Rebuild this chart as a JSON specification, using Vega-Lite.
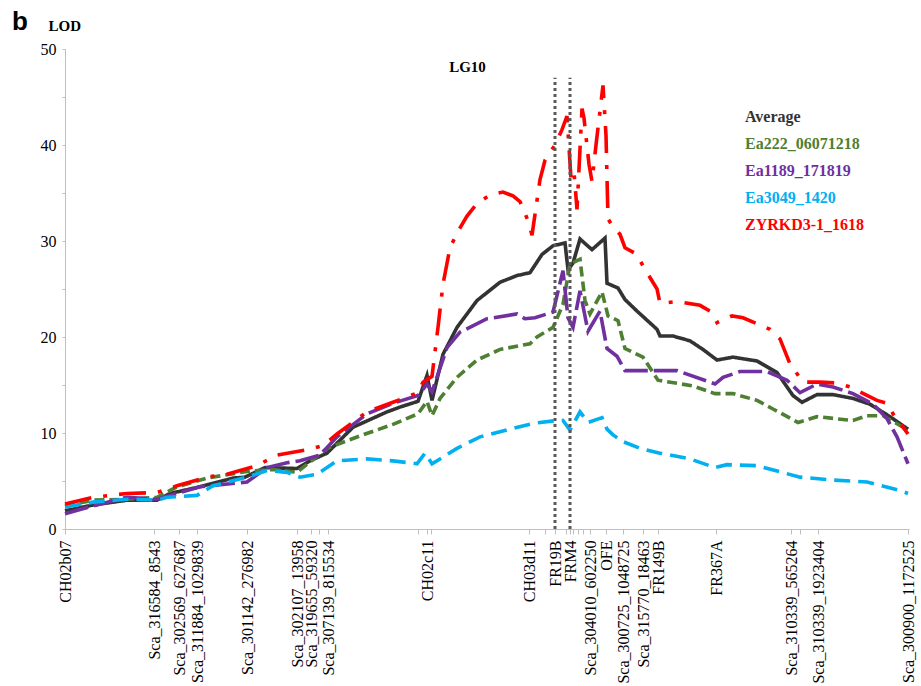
{
  "$schema": "https://vega.github.io/schema/vega-lite/v6.json",
  "autosize": "none",
  "width": 844,
  "height": 480,
  "padding": {"left": 65, "top": 49, "right": 12, "bottom": 157},
  "background": "white",
  "config": {"view": {"stroke": null}, "axis": {"labelOverlap": false}},
  "datasets": {
    "flank": [{"marker": "FR19B", "cM": 49.0}, {"marker": "FRM4", "cM": 50.5}],
    "lod": [
      {"series":"Average","cM":0,"LOD":1.9},{"series":"Average","cM":2.8,"LOD":2.5},{"series":"Average","cM":6.2,"LOD":3.0},{"series":"Average","cM":9.2,"LOD":3.0},{"series":"Average","cM":10.5,"LOD":3.7},{"series":"Average","cM":13.5,"LOD":4.4},{"series":"Average","cM":16.8,"LOD":5.3},{"series":"Average","cM":18.0,"LOD":5.4},{"series":"Average","cM":20.0,"LOD":6.4},{"series":"Average","cM":23.2,"LOD":6.3},{"series":"Average","cM":24.5,"LOD":7.1},{"series":"Average","cM":26.2,"LOD":7.9},{"series":"Average","cM":28.8,"LOD":10.6},{"series":"Average","cM":32.2,"LOD":12.2},{"series":"Average","cM":33.5,"LOD":12.7},{"series":"Average","cM":35.3,"LOD":13.3},{"series":"Average","cM":36.2,"LOD":16.0},{"series":"Average","cM":36.7,"LOD":13.4},{"series":"Average","cM":37.8,"LOD":18.2},{"series":"Average","cM":39.2,"LOD":21.0},{"series":"Average","cM":41.2,"LOD":23.8},{"series":"Average","cM":43.5,"LOD":25.7},{"series":"Average","cM":45.2,"LOD":26.4},{"series":"Average","cM":46.5,"LOD":26.7},{"series":"Average","cM":47.7,"LOD":28.6},{"series":"Average","cM":48.8,"LOD":29.5},{"series":"Average","cM":50.0,"LOD":29.8},{"series":"Average","cM":50.3,"LOD":27.0},{"series":"Average","cM":50.8,"LOD":27.7},{"series":"Average","cM":51.5,"LOD":30.2},{"series":"Average","cM":52.7,"LOD":29.1},{"series":"Average","cM":54.0,"LOD":30.3},{"series":"Average","cM":54.2,"LOD":25.6},{"series":"Average","cM":55.3,"LOD":25.1},{"series":"Average","cM":56.0,"LOD":23.9},{"series":"Average","cM":57.2,"LOD":22.7},{"series":"Average","cM":59.2,"LOD":20.8},{"series":"Average","cM":59.5,"LOD":20.1},{"series":"Average","cM":60.8,"LOD":20.1},{"series":"Average","cM":62.5,"LOD":19.6},{"series":"Average","cM":63.8,"LOD":18.7},{"series":"Average","cM":65.2,"LOD":17.6},{"series":"Average","cM":66.8,"LOD":17.9},{"series":"Average","cM":69.2,"LOD":17.5},{"series":"Average","cM":71.2,"LOD":16.3},{"series":"Average","cM":72.8,"LOD":13.9},{"series":"Average","cM":73.7,"LOD":13.2},{"series":"Average","cM":75.2,"LOD":14.0},{"series":"Average","cM":76.8,"LOD":14.0},{"series":"Average","cM":78.8,"LOD":13.6},{"series":"Average","cM":80.5,"LOD":13.0},{"series":"Average","cM":82.5,"LOD":11.7},{"series":"Average","cM":84.3,"LOD":10.4},
      {"series":"Ea222_06071218","cM":0,"LOD":2.4},{"series":"Ea222_06071218","cM":2.8,"LOD":3.0},{"series":"Ea222_06071218","cM":6.2,"LOD":3.1},{"series":"Ea222_06071218","cM":9.2,"LOD":3.3},{"series":"Ea222_06071218","cM":11.2,"LOD":4.4},{"series":"Ea222_06071218","cM":14.2,"LOD":5.3},{"series":"Ea222_06071218","cM":18.2,"LOD":6.0},{"series":"Ea222_06071218","cM":20.8,"LOD":6.2},{"series":"Ea222_06071218","cM":23.2,"LOD":5.9},{"series":"Ea222_06071218","cM":26.2,"LOD":8.4},{"series":"Ea222_06071218","cM":29.5,"LOD":9.7},{"series":"Ea222_06071218","cM":32.8,"LOD":10.9},{"series":"Ea222_06071218","cM":35.3,"LOD":12.0},{"series":"Ea222_06071218","cM":36.2,"LOD":13.3},{"series":"Ea222_06071218","cM":36.7,"LOD":11.8},{"series":"Ea222_06071218","cM":37.5,"LOD":13.6},{"series":"Ea222_06071218","cM":39.2,"LOD":15.8},{"series":"Ea222_06071218","cM":41.2,"LOD":17.6},{"series":"Ea222_06071218","cM":43.5,"LOD":18.7},{"series":"Ea222_06071218","cM":46.5,"LOD":19.3},{"series":"Ea222_06071218","cM":47.2,"LOD":20.0},{"series":"Ea222_06071218","cM":48.8,"LOD":21.0},{"series":"Ea222_06071218","cM":49.8,"LOD":23.4},{"series":"Ea222_06071218","cM":50.5,"LOD":27.6},{"series":"Ea222_06071218","cM":51.5,"LOD":28.1},{"series":"Ea222_06071218","cM":52.0,"LOD":23.8},{"series":"Ea222_06071218","cM":52.5,"LOD":22.4},{"series":"Ea222_06071218","cM":53.7,"LOD":24.7},{"series":"Ea222_06071218","cM":54.3,"LOD":22.2},{"series":"Ea222_06071218","cM":55.3,"LOD":21.7},{"series":"Ea222_06071218","cM":56.0,"LOD":18.8},{"series":"Ea222_06071218","cM":57.8,"LOD":17.9},{"series":"Ea222_06071218","cM":59.3,"LOD":15.5},{"series":"Ea222_06071218","cM":62.8,"LOD":14.9},{"series":"Ea222_06071218","cM":65.0,"LOD":14.1},{"series":"Ea222_06071218","cM":66.8,"LOD":14.1},{"series":"Ea222_06071218","cM":69.2,"LOD":13.4},{"series":"Ea222_06071218","cM":70.8,"LOD":12.5},{"series":"Ea222_06071218","cM":73.3,"LOD":11.1},{"series":"Ea222_06071218","cM":75.2,"LOD":11.7},{"series":"Ea222_06071218","cM":78.8,"LOD":11.3},{"series":"Ea222_06071218","cM":80.2,"LOD":11.8},{"series":"Ea222_06071218","cM":81.8,"LOD":11.8},{"series":"Ea222_06071218","cM":84.3,"LOD":10.3},
      {"series":"Ea1189_171819","cM":0,"LOD":1.6},{"series":"Ea1189_171819","cM":2.8,"LOD":2.4},{"series":"Ea1189_171819","cM":6.2,"LOD":3.3},{"series":"Ea1189_171819","cM":9.2,"LOD":3.1},{"series":"Ea1189_171819","cM":13.5,"LOD":4.4},{"series":"Ea1189_171819","cM":18.2,"LOD":4.9},{"series":"Ea1189_171819","cM":20.2,"LOD":6.4},{"series":"Ea1189_171819","cM":22.2,"LOD":6.9},{"series":"Ea1189_171819","cM":23.5,"LOD":7.1},{"series":"Ea1189_171819","cM":25.5,"LOD":7.7},{"series":"Ea1189_171819","cM":27.2,"LOD":9.6},{"series":"Ea1189_171819","cM":30.2,"LOD":12.0},{"series":"Ea1189_171819","cM":32.8,"LOD":13.1},{"series":"Ea1189_171819","cM":35.3,"LOD":13.9},{"series":"Ea1189_171819","cM":36.2,"LOD":15.1},{"series":"Ea1189_171819","cM":36.7,"LOD":14.3},{"series":"Ea1189_171819","cM":38.2,"LOD":18.9},{"series":"Ea1189_171819","cM":39.5,"LOD":20.5},{"series":"Ea1189_171819","cM":42.2,"LOD":21.9},{"series":"Ea1189_171819","cM":45.2,"LOD":22.4},{"series":"Ea1189_171819","cM":46.0,"LOD":21.9},{"series":"Ea1189_171819","cM":47.0,"LOD":22.0},{"series":"Ea1189_171819","cM":48.8,"LOD":22.6},{"series":"Ea1189_171819","cM":49.8,"LOD":26.9},{"series":"Ea1189_171819","cM":50.3,"LOD":22.0},{"series":"Ea1189_171819","cM":50.8,"LOD":21.0},{"series":"Ea1189_171819","cM":51.5,"LOD":24.8},{"series":"Ea1189_171819","cM":52.3,"LOD":20.6},{"series":"Ea1189_171819","cM":53.5,"LOD":22.7},{"series":"Ea1189_171819","cM":54.2,"LOD":18.8},{"series":"Ea1189_171819","cM":55.2,"LOD":18.0},{"series":"Ea1189_171819","cM":56.0,"LOD":16.5},{"series":"Ea1189_171819","cM":61.2,"LOD":16.5},{"series":"Ea1189_171819","cM":64.5,"LOD":15.3},{"series":"Ea1189_171819","cM":65.0,"LOD":15.1},{"series":"Ea1189_171819","cM":65.8,"LOD":15.8},{"series":"Ea1189_171819","cM":67.5,"LOD":16.4},{"series":"Ea1189_171819","cM":70.2,"LOD":16.4},{"series":"Ea1189_171819","cM":72.2,"LOD":15.5},{"series":"Ea1189_171819","cM":73.5,"LOD":14.2},{"series":"Ea1189_171819","cM":75.2,"LOD":15.1},{"series":"Ea1189_171819","cM":76.8,"LOD":14.8},{"series":"Ea1189_171819","cM":78.8,"LOD":14.1},{"series":"Ea1189_171819","cM":80.8,"LOD":13.0},{"series":"Ea1189_171819","cM":82.2,"LOD":11.5},{"series":"Ea1189_171819","cM":83.2,"LOD":9.6},{"series":"Ea1189_171819","cM":84.3,"LOD":6.8},
      {"series":"Ea3049_1420","cM":0,"LOD":2.3},{"series":"Ea3049_1420","cM":2.8,"LOD":2.8},{"series":"Ea3049_1420","cM":6.2,"LOD":3.1},{"series":"Ea3049_1420","cM":9.2,"LOD":3.0},{"series":"Ea3049_1420","cM":10.2,"LOD":3.3},{"series":"Ea3049_1420","cM":13.2,"LOD":3.5},{"series":"Ea3049_1420","cM":14.8,"LOD":4.5},{"series":"Ea3049_1420","cM":18.2,"LOD":5.4},{"series":"Ea3049_1420","cM":20.2,"LOD":6.1},{"series":"Ea3049_1420","cM":22.2,"LOD":5.9},{"series":"Ea3049_1420","cM":23.5,"LOD":5.4},{"series":"Ea3049_1420","cM":25.2,"LOD":5.7},{"series":"Ea3049_1420","cM":27.2,"LOD":7.1},{"series":"Ea3049_1420","cM":30.2,"LOD":7.3},{"series":"Ea3049_1420","cM":32.8,"LOD":7.1},{"series":"Ea3049_1420","cM":35.2,"LOD":6.8},{"series":"Ea3049_1420","cM":36.0,"LOD":7.9},{"series":"Ea3049_1420","cM":36.7,"LOD":6.8},{"series":"Ea3049_1420","cM":37.5,"LOD":7.3},{"series":"Ea3049_1420","cM":39.2,"LOD":8.4},{"series":"Ea3049_1420","cM":41.5,"LOD":9.6},{"series":"Ea3049_1420","cM":44.5,"LOD":10.4},{"series":"Ea3049_1420","cM":46.8,"LOD":11.0},{"series":"Ea3049_1420","cM":49.2,"LOD":11.3},{"series":"Ea3049_1420","cM":49.8,"LOD":11.3},{"series":"Ea3049_1420","cM":50.5,"LOD":10.3},{"series":"Ea3049_1420","cM":51.5,"LOD":12.2},{"series":"Ea3049_1420","cM":52.3,"LOD":11.1},{"series":"Ea3049_1420","cM":53.7,"LOD":11.6},{"series":"Ea3049_1420","cM":54.2,"LOD":10.4},{"series":"Ea3049_1420","cM":54.8,"LOD":9.8},{"series":"Ea3049_1420","cM":55.8,"LOD":9.1},{"series":"Ea3049_1420","cM":57.5,"LOD":8.4},{"series":"Ea3049_1420","cM":59.5,"LOD":7.9},{"series":"Ea3049_1420","cM":62.5,"LOD":7.3},{"series":"Ea3049_1420","cM":65.0,"LOD":6.4},{"series":"Ea3049_1420","cM":66.2,"LOD":6.7},{"series":"Ea3049_1420","cM":69.2,"LOD":6.6},{"series":"Ea3049_1420","cM":73.5,"LOD":5.4},{"series":"Ea3049_1420","cM":76.8,"LOD":5.1},{"series":"Ea3049_1420","cM":80.2,"LOD":4.9},{"series":"Ea3049_1420","cM":83.5,"LOD":4.0},{"series":"Ea3049_1420","cM":84.3,"LOD":3.7},
      {"series":"ZYRKD3-1_1618","cM":0,"LOD":2.6},{"series":"ZYRKD3-1_1618","cM":2.8,"LOD":3.3},{"series":"ZYRKD3-1_1618","cM":6.2,"LOD":3.7},{"series":"ZYRKD3-1_1618","cM":9.2,"LOD":3.8},{"series":"ZYRKD3-1_1618","cM":11.2,"LOD":4.5},{"series":"ZYRKD3-1_1618","cM":14.2,"LOD":5.4},{"series":"ZYRKD3-1_1618","cM":16.2,"LOD":5.7},{"series":"ZYRKD3-1_1618","cM":19.2,"LOD":6.6},{"series":"ZYRKD3-1_1618","cM":21.2,"LOD":7.7},{"series":"ZYRKD3-1_1618","cM":24.5,"LOD":8.3},{"series":"ZYRKD3-1_1618","cM":25.8,"LOD":8.7},{"series":"ZYRKD3-1_1618","cM":27.2,"LOD":9.9},{"series":"ZYRKD3-1_1618","cM":30.2,"LOD":12.2},{"series":"ZYRKD3-1_1618","cM":32.8,"LOD":13.2},{"series":"ZYRKD3-1_1618","cM":35.3,"LOD":14.2},{"series":"ZYRKD3-1_1618","cM":35.8,"LOD":15.3},{"series":"ZYRKD3-1_1618","cM":36.7,"LOD":15.9},{"series":"ZYRKD3-1_1618","cM":37.3,"LOD":21.0},{"series":"ZYRKD3-1_1618","cM":37.8,"LOD":25.5},{"series":"ZYRKD3-1_1618","cM":38.5,"LOD":29.3},{"series":"ZYRKD3-1_1618","cM":39.3,"LOD":31.0},{"series":"ZYRKD3-1_1618","cM":40.2,"LOD":32.6},{"series":"ZYRKD3-1_1618","cM":41.2,"LOD":33.9},{"series":"ZYRKD3-1_1618","cM":42.5,"LOD":34.8},{"series":"ZYRKD3-1_1618","cM":43.8,"LOD":35.1},{"series":"ZYRKD3-1_1618","cM":44.8,"LOD":34.7},{"series":"ZYRKD3-1_1618","cM":45.5,"LOD":34.1},{"series":"ZYRKD3-1_1618","cM":45.8,"LOD":33.4},{"series":"ZYRKD3-1_1618","cM":46.3,"LOD":32.1},{"series":"ZYRKD3-1_1618","cM":46.7,"LOD":30.6},{"series":"ZYRKD3-1_1618","cM":47.5,"LOD":36.4},{"series":"ZYRKD3-1_1618","cM":48.0,"LOD":38.4},{"series":"ZYRKD3-1_1618","cM":49.0,"LOD":40.0},{"series":"ZYRKD3-1_1618","cM":49.7,"LOD":41.6},{"series":"ZYRKD3-1_1618","cM":50.2,"LOD":43.0},{"series":"ZYRKD3-1_1618","cM":50.6,"LOD":36.5},{"series":"ZYRKD3-1_1618","cM":50.9,"LOD":37.2},{"series":"ZYRKD3-1_1618","cM":51.2,"LOD":33.3},{"series":"ZYRKD3-1_1618","cM":51.7,"LOD":43.8},{"series":"ZYRKD3-1_1618","cM":51.9,"LOD":42.8},{"series":"ZYRKD3-1_1618","cM":52.4,"LOD":38.0},{"series":"ZYRKD3-1_1618","cM":52.7,"LOD":36.2},{"series":"ZYRKD3-1_1618","cM":53.1,"LOD":40.0},{"series":"ZYRKD3-1_1618","cM":53.8,"LOD":46.2},{"series":"ZYRKD3-1_1618","cM":54.1,"LOD":41.0},{"series":"ZYRKD3-1_1618","cM":54.3,"LOD":32.3},{"series":"ZYRKD3-1_1618","cM":54.8,"LOD":31.5},{"series":"ZYRKD3-1_1618","cM":55.5,"LOD":30.7},{"series":"ZYRKD3-1_1618","cM":56.0,"LOD":29.3},{"series":"ZYRKD3-1_1618","cM":57.2,"LOD":28.6},{"series":"ZYRKD3-1_1618","cM":57.8,"LOD":27.4},{"series":"ZYRKD3-1_1618","cM":59.2,"LOD":25.0},{"series":"ZYRKD3-1_1618","cM":59.5,"LOD":23.5},{"series":"ZYRKD3-1_1618","cM":61.2,"LOD":23.7},{"series":"ZYRKD3-1_1618","cM":63.5,"LOD":23.3},{"series":"ZYRKD3-1_1618","cM":64.5,"LOD":22.7},{"series":"ZYRKD3-1_1618","cM":65.2,"LOD":21.5},{"series":"ZYRKD3-1_1618","cM":66.7,"LOD":22.2},{"series":"ZYRKD3-1_1618","cM":67.8,"LOD":22.0},{"series":"ZYRKD3-1_1618","cM":70.5,"LOD":20.8},{"series":"ZYRKD3-1_1618","cM":71.5,"LOD":19.8},{"series":"ZYRKD3-1_1618","cM":72.5,"LOD":17.2},{"series":"ZYRKD3-1_1618","cM":73.8,"LOD":15.3},{"series":"ZYRKD3-1_1618","cM":75.5,"LOD":15.3},{"series":"ZYRKD3-1_1618","cM":77.2,"LOD":15.2},{"series":"ZYRKD3-1_1618","cM":78.5,"LOD":14.8},{"series":"ZYRKD3-1_1618","cM":81.2,"LOD":13.4},{"series":"ZYRKD3-1_1618","cM":82.2,"LOD":13.1},{"series":"ZYRKD3-1_1618","cM":82.8,"LOD":12.0},{"series":"ZYRKD3-1_1618","cM":84.3,"LOD":9.9}
    ]
  },
  "layer": [
    {
      "data": {"name": "lod"},
      "mark": {"type": "line", "strokeWidth": 3.6, "strokeMiterLimit": 4},
      "encoding": {
        "x": {
          "field": "cM", "type": "quantitative",
          "scale": {"domain": [0, 84.4], "nice": false, "zero": false},
          "axis": {
            "title": null,
            "values": [0, 8.9, 11.4, 13.2, 18.2, 23.2, 24.6, 25.4, 26.3, 35.3, 36.2, 36.6, 46.4, 48.0, 49.0, 50.1, 50.5, 50.8, 51.3, 51.8, 52.5, 54.1, 55.8, 57.8, 59.3, 65.1, 72.6, 73.5, 75.3, 84.3],
            "tickCount": 200,
            "labelExpr": "['CH02b07','Sca_316584_8543','Sca_302569_627687','Sca_311884_1029839','Sca_301142_276982','Sca_302107_13958','Sca_319655_59320','','Sca_307139_815534','','CH02c11','','CH03d11','','FR19B','','FRM4','','','','Sca_304010_602250','OFE','Sca_300725_1048725','Sca_315770_18463','FR149B','FR367A','Sca_310339_565264','','Sca_310339_1923404','Sca_300900_1172525'][indexof([0, 8.9, 11.4, 13.2, 18.2, 23.2, 24.6, 25.4, 26.3, 35.3, 36.2, 36.6, 46.4, 48.0, 49.0, 50.1, 50.5, 50.8, 51.3, 51.8, 52.5, 54.1, 55.8, 57.8, 59.3, 65.1, 72.6, 73.5, 75.3, 84.3], datum.value)]",
            "labelAngle": -90,
            "labelOverlap": false,
            "labelFlush": false,
            "labelBound": false,
            "labelFont": "Liberation Serif",
            "labelFontSize": 16,
            "labelColor": "black",
            "labelPadding": 6,
            "tickSize": 5,
            "tickColor": "#bfbfbf",
            "domainColor": "#bfbfbf",
            "grid": false
          }
        },
        "y": {
          "field": "LOD", "type": "quantitative",
          "scale": {"domain": [0, 50], "nice": false},
          "axis": {
            "title": "LOD",
            "titleAngle": 0,
            "titleX": -17,
            "titleY": -19,
            "titleAlign": "left",
            "titleBaseline": "alphabetic",
            "titleFont": "Liberation Serif",
            "titleFontSize": 15,
            "titleFontWeight": "bold",
            "titleColor": "black",
            "values": [0, 5, 10, 15, 20, 25, 30, 35, 40, 45, 50],
            "tickCount": 50,
            "labelExpr": "datum.value % 10 === 0 ? datum.label : ''",
            "labelOverlap": false,
            "labelFont": "Liberation Serif",
            "labelFontSize": 16,
            "labelColor": "black",
            "labelPadding": 6,
            "tickSize": 3,
            "tickColor": "#bfbfbf",
            "domainColor": "#bfbfbf",
            "grid": false
          }
        },
        "color": {
          "field": "series", "type": "nominal",
          "scale": {
            "domain": ["Average", "Ea222_06071218", "Ea1189_171819", "Ea3049_1420", "ZYRKD3-1_1618"],
            "range": ["#333333", "#4f7f32", "#7030a0", "#00b0f0", "#ff0000"]
          },
          "legend": {
            "title": null,
            "orient": "none",
            "legendX": 664,
            "legendY": 60,
            "padding": 0,
            "symbolSize": 0,
            "symbolStrokeWidth": 0,
            "symbolOpacity": 0,
            "labelOffset": 0,
            "labelFont": "Liberation Serif",
            "labelFontSize": 16,
            "labelFontWeight": "bold",
            "labelLimit": 300,
            "rowPadding": 11,
            "encode": {"labels": {"update": {"fill": {"scale": "color", "field": "value"}}}}
          }
        },
        "strokeDash": {
          "field": "series", "type": "nominal",
          "scale": {
            "domain": ["Average", "Ea222_06071218", "Ea1189_171819", "Ea3049_1420", "ZYRKD3-1_1618"],
            "range": [[1, 0], [10, 5], [24, 6], [16, 8], [27, 12, 4, 12]]
          },
          "legend": null
        }
      }
    },
    {
      "data": {"name": "flank"},
      "mark": {"type": "rule", "color": "#595959", "strokeWidth": 3, "strokeDash": [3, 3]},
      "encoding": {
        "x": {"field": "cM", "type": "quantitative"},
        "y": {"datum": 0},
        "y2": {"datum": 47}
      }
    },
    {
      "data": {"values": [{}]},
      "mark": {"type": "text", "text": "LG10", "font": "Liberation Serif", "fontSize": 15, "fontWeight": "bold", "color": "black", "align": "center", "baseline": "middle"},
      "encoding": {
        "x": {"datum": 40.25},
        "y": {"datum": 48.1}
      }
    },
    {
      "data": {"values": [{}]},
      "mark": {"type": "text", "text": "b", "font": "Liberation Sans", "fontSize": 26, "fontWeight": "bold", "color": "black", "align": "left", "baseline": "alphabetic"},
      "encoding": {
        "x": {"datum": -5.3},
        "y": {"datum": 52.0}
      }
    }
  ]
}
